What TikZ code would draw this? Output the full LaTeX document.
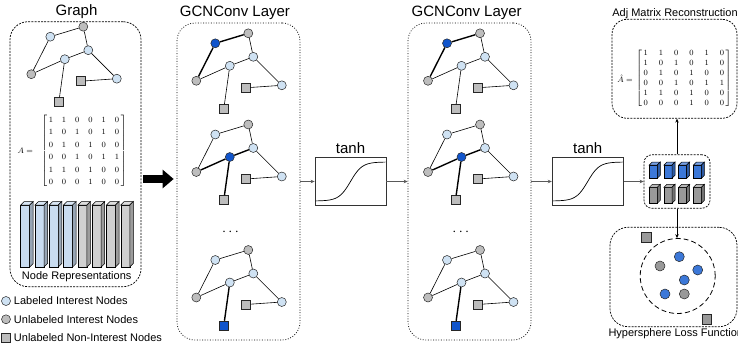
\documentclass[tikz,border=0pt]{standalone}
\usepackage{color}
\usepackage{amsmath}
\usepackage{amssymb}
\usepackage[no-math]{fontspec}
\usepackage{tikz}
\usetikzlibrary{arrows.meta,shapes,positioning}
\usetikzlibrary{calc}

\newfontfamily\labelfont{Liberation Sans}

\definecolor{nodeblue}{HTML}{CFE2F3}
\definecolor{nodegray}{HTML}{BDBDBD}
\definecolor{hubblue}{HTML}{1155CC}
\definecolor{cubeblue}{HTML}{3C78D8}
\definecolor{cubegray}{HTML}{999999}
\definecolor{barblue}{HTML}{C9DCF0}
\definecolor{bargray}{HTML}{D0D0D0}

\tikzset{
	gnode/.style={circle,draw=black!85,line width=0.5pt,minimum size=9pt,inner sep=0pt},
	bluenode/.style={gnode,fill=nodeblue},
	graynode/.style={gnode,fill=nodegray},
	sqnode/.style={rectangle,draw=black!85,line width=0.5pt,minimum size=9pt,inner sep=0pt,fill=nodegray},
	gedge/.style={line width=0.6pt},
	hot/.style={line width=1.4pt},
	% defaults for one small graph, changed per call
	g-tl/.style={bluenode},
	g-md/.style={bluenode},
	g-bs/.style={sqnode},
	g-tl-tg/.style={gedge},
	g-tl-lg/.style={gedge},
	g-md-lg/.style={gedge},
	g-md-ru/.style={gedge},
	g-md-bs/.style={gedge},
	panel/.style={draw,line width=0.7pt,inner sep=0pt,rounded corners=18pt},
	fine dash/.style={dash pattern=on 2pt off 1.2pt},
	fine dots/.style={dash pattern=on 0.9pt off 1.7pt},
	title/.style={font=\labelfont\fontsize{15}{18}\selectfont,inner sep=0pt},
	small/.style={font=\labelfont\fontsize{11}{13}\selectfont,inner sep=0pt},
	conn/.style={draw=black!65,line width=0.8pt,-{Stealth[length=4pt,width=3.5pt]}},
	tanhbox/.style={draw=black!80,line width=0.8pt,minimum width=71pt,minimum height=48.5pt,inner sep=0pt},
}

% one small graph: prefix, x, y, extra styles
\newcommand{\smallgraph}[4]{%
	\begin{scope}[shift={(#2,#3)},#4]
		\node[graynode] (#1tg) at (0,0) {};
		\node[g-tl] (#1tl) at (-33,10) {};
		\node[bluenode] (#1ru) at (5,23.5) {};
		\node[g-md] (#1md) at (-18.5,32.5) {};
		\node[graynode] (#1lg) at (-52,47.5) {};
		\node[bluenode] (#1rt) at (33.5,52) {};
		\node[sqnode] (#1sq) at (-2.5,54.5) {};
		\node[g-bs] (#1bs) at (-24.5,75.5) {};
		\draw[g-tl-tg] (#1tl) -- (#1tg);
		\draw[g-tl-lg] (#1tl) -- (#1lg);
		\draw[gedge] (#1tg) -- (#1ru);
		\draw[g-md-ru] (#1md) -- (#1ru);
		\draw[g-md-lg] (#1md) -- (#1lg);
		\draw[gedge] (#1ru) -- (#1rt);
		\draw[gedge] (#1sq) -- (#1rt);
		\draw[g-md-bs] (#1md) -- (#1bs);
	\end{scope}}

% a small 3d block: x, y, width, height, depth, colour
\newcommand{\prism}[6]{%
	\filldraw[fill=#6,line width=0.5pt] ({#1},{#2}) rectangle ++(#3,#4);
	\filldraw[fill=#6!70!white,line width=0.5pt] ({#1},{#2}) -- ++(#5,-#5) -- ++(#3,0) -- ++(-#5,#5) -- cycle;
	\filldraw[fill=#6!75!black,line width=0.5pt] ({#1+#3},{#2}) -- ++(#5,-#5) -- ++(0,#4) -- ++(-#5,#5) -- cycle;}

% the 6x6 adjacency entries
\newcommand{\adjrows}{1&1&0&0&1&0\\ 1&0&1&0&1&0\\ 0&1&0&1&0&0\\
	0&0&1&0&1&1\\ 1&1&0&1&0&0\\ 0&0&0&1&0&0}

\begin{document}
\begin{tikzpicture}[x=1pt,y=-1pt]
	
	\useasboundingbox (0,0) rectangle (738,345);
	
	% panels
	\node[panel,fine dash,minimum width=131pt,minimum height=265pt] (graph) at (75.5,154.2) {};
	\node[panel,fine dots,minimum width=123pt,minimum height=317pt] (gcnA) at (238.5,181.5) {};
	\node[panel,fine dots,minimum width=123pt,minimum height=317pt] (gcnB) at (469.5,181.5) {};
	\node[panel,fine dash,rounded corners=15pt,minimum width=125pt,minimum height=99pt] (adj) at (674.5,68.8) {};
	\node[panel,fine dash,rounded corners=8pt,minimum width=66pt,minimum height=53.5pt] (feat) at (677,181.5) {};
	\node[panel,fine dash,minimum width=127pt,minimum height=99.4pt] (hyp) at (673.5,277) {};
	
	\node[title] (graphlbl) at (76.5,11.7) {Graph};
	\node[title] (gcnAlbl) at (235,13) {GCNConv Layer};
	\node[title] (gcnBlbl) at (466.7,13) {GCNConv Layer};
	\node[small] (adjlbl) at (675,13.3) {Adj Matrix Reconstruction};
	\node[small,anchor=west] (hyplbl) at (608.3,333.5) {Hypersphere Loss Function};
	
	% input graph, adjacency matrix and features
	\smallgraph{g}{83.3}{26.7}{}
	\node[font=\fontsize{8.5}{12.5}\selectfont,inner sep=0pt] (amat) at (84,151)
		{$\setlength{\arraycolsep}{4.5pt}\left[\begin{array}{@{\hspace{1.5pt}}cccccc@{\hspace{1.5pt}}}\adjrows\end{array}\right]$};
	\node[font=\fontsize{8.5}{12.5}\selectfont,inner sep=0pt,left=8pt of amat] (aeq) {$A=$};
	\foreach \i/\c in {0/barblue,1/barblue,2/barblue,3/barblue,4/bargray,5/bargray,6/bargray,7/bargray}
		\prism{20.7+14.3*\i}{205}{9}{62}{3.5}{\c};
	\node[small] (replbl) at (76.7,276.7) {Node Representations};
	
	% legend
	\node[bluenode] (lega) at (6,301) {};
	\node[graynode] (legb) at (6,319.3) {};
	\node[sqnode] (legc) at (6,337.3) {};
	\node[small,right=3pt of lega] (legatxt) {Labeled Interest Nodes};
	\node[small,right=3pt of legb] (legbtxt) {Unlabeled Interest Nodes};
	\node[small,right=3pt of legc] (legctxt) {Unlabeled Non-Interest Nodes};
	
	% two GCNConv layers
	\foreach \p/\gx in {a/248.3,b/480}{
		\smallgraph{\p1}{\gx}{33.3}{g-tl/.style={bluenode,fill=hubblue},g-tl-tg/.style={hot},g-tl-lg/.style={hot}}
		\smallgraph{\p2}{\gx}{124.5}{g-md/.style={bluenode,fill=hubblue},g-md-lg/.style={hot},g-md-ru/.style={hot},g-md-bs/.style={hot}}
		\smallgraph{\p3}{\gx}{250}{g-bs/.style={sqnode,fill=hubblue},g-md-bs/.style={hot}}
	}
	\node[font=\fontsize{14}{14}\selectfont,inner sep=0pt] (dotsA) at (231.7,232) {$\cdots$};
	\node[font=\fontsize{14}{14}\selectfont,inner sep=0pt] (dotsB) at (462,232) {$\cdots$};
	
	% activations
	\node[tanhbox] (t1) at (350.5,181.5) {};
	\node[tanhbox] (t2) at (587.7,181.5) {};
	\node[title,above=3pt of t1] (t1lbl) {tanh};
	\node[title,above=3pt of t2] (t2lbl) {tanh};
	\draw[line width=0.7pt,shift={(t1.center)}] plot[domain=-3:3,samples=40,smooth] ({11.6*\x},{-19.5*tanh(\x)});
	\draw[line width=0.7pt,shift={(t2.center)}] plot[domain=-3:3,samples=40,smooth] ({11.6*\x},{-19.5*tanh(\x)});
	
	% learned embeddings
	\foreach \i in {0,...,3}{
		\prism{649.3+14.7*\i}{165}{8}{13.3}{3}{cubeblue}
		\prism{649.3+14.7*\i}{187.3}{8}{16}{3}{cubegray}
	}
	
	% reconstructed adjacency
	\node[font=\fontsize{8.5}{10}\selectfont,inner sep=0pt] (ahat) at (683.8,78.3)
		{$\setlength{\arraycolsep}{5.5pt}\left[\begin{array}{@{\hspace{1.5pt}}cccccc@{\hspace{1.5pt}}}\adjrows\end{array}\right]$};
	\node[font=\fontsize{8.5}{10}\selectfont,inner sep=0pt,left=3pt of ahat] (aheq) {$\hat{A}=$};
	
	% hypersphere
	\node[draw,circle,line width=0.8pt,dash pattern=on 5pt off 3pt,minimum size=75pt,inner sep=0pt] (sphere) at (677.7,276) {};
	\foreach \px/\py/\c [count=\k] in {679.3/256.7/cubeblue,660/266/cubegray,697.7/270/cubeblue,684.3/280/cubeblue,665/294/cubeblue,684.3/294/cubegray}
		\node[gnode,fill=\c,minimum size=10pt] (pt\k) at (\px,\py) {};
	\node[sqnode,fill=cubegray,minimum size=9.5pt] (out1) at (646,237.3) {};
	\node[sqnode,fill=cubegray,minimum size=9.5pt] (out2) at (706.7,319) {};
	
	% connectors
	\coordinate (big) at (143,179);
	\draw[line width=8pt,-{Triangle[length=11pt,width=18pt]},shorten >=3pt] (big) -- (big -| gcnA.west);
	\draw[conn] (gcnA.east) -- (t1.west);
	\draw[conn] (t1.east) -- (gcnB.west);
	\draw[conn] (gcnB.east) -- (t2.west);
	\draw[conn] (t2.east) -- (feat.west);
	\draw[conn,draw=black] (feat.north) -- (feat.north |- adj.south);
	\draw[conn,draw=black] (feat.south) -- (feat.south |- sphere.north);
	
\end{tikzpicture}
\end{document}
